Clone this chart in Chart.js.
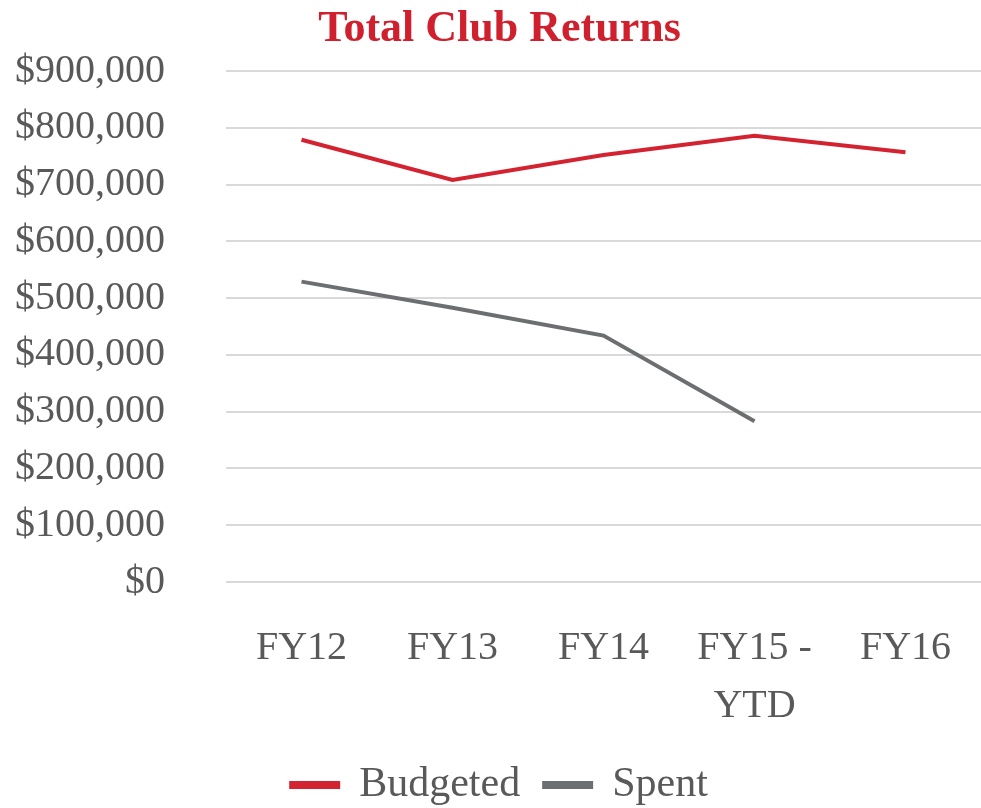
<!DOCTYPE html>
<html>
<head>
<meta charset="utf-8">
<script src="https://cdn.jsdelivr.net/npm/chart.js@4"></script>
<style>
  html, body { margin: 0; padding: 0; background: #fff; }
  #wrap { width: 981px; height: 808px; }
</style>
</head>
<body>
<div id="wrap"><canvas id="myLineChart"></canvas></div>
<script>
const categories = [['FY12'], ['FY13'], ['FY14'], ['FY15 -', 'YTD'], ['FY16']];
const budgeted = [779000, 708000, 752000, 786000, 757000];
const spent = [529000, 483000, 434000, 283000, null];
const yTicks = [0, 100000, 200000, 300000, 400000, 500000, 600000, 700000, 800000, 900000];

const serif = "'Liberation Serif', 'Times New Roman', serif";
const textGray = '#595959';

document.addEventListener('DOMContentLoaded', function () {
    const ctx = document.getElementById('myLineChart').getContext('2d');
    const myLineChart = new Chart(ctx, {
        type: 'line',
        data: {
            labels: categories,
            datasets: [{
                label: 'Budgeted',
                data: budgeted,
                borderColor: '#d42330',
                backgroundColor: '#d42330',
                borderWidth: 4,
                pointRadius: 0,
                fill: false,
                tension: 0
            }, {
                label: 'Spent',
                data: spent,
                borderColor: '#6d6e71',
                backgroundColor: '#6d6e71',
                borderWidth: 4,
                pointRadius: 0,
                fill: false,
                tension: 0
            }]
        },
        options: {
            responsive: true,
            maintainAspectRatio: false,
            animation: false,
            layout: { padding: { left: 10, right: -8, top: 0, bottom: -8 } },
            scales: {
                x: {
                    offset: true,
                    grid: { display: false, drawTicks: false },
                    border: { display: false },
                    afterFit: function (axis) {
                        axis.height = 158;
                        axis.paddingLeft = 0;
                        axis.paddingRight = 0;
                    },
                    ticks: {
                        color: textGray,
                        padding: 37,
                        maxRotation: 0,
                        autoSkip: false,
                        font: { family: serif, size: 40, lineHeight: 1.45 }
                    }
                },
                y: {
                    min: 0,
                    max: 900000,
                    afterBuildTicks: function (axis) {
                        axis.ticks = yTicks.map(v => ({ value: v }));
                    },
                    afterFit: function (axis) {
                        axis.width = 216;
                        axis.paddingTop = 0;
                        axis.paddingBottom = 0;
                    },
                    grid: { color: '#d9d9d9', lineWidth: 2, drawTicks: false },
                    border: { display: false },
                    ticks: {
                        color: textGray,
                        padding: 61,
                        autoSkip: false,
                        font: { family: serif, size: 40 },
                        callback: v => '$' + v.toLocaleString('en-US')
                    }
                }
            },
            plugins: {
                legend: {
                    display: true,
                    position: 'bottom',
                    labels: {
                        color: textGray,
                        boxWidth: 47,
                        boxHeight: 4,
                        padding: 24,
                        font: { family: serif, size: 42 }
                    }
                },
                title: {
                    display: true,
                    text: 'Total Club Returns',
                    color: '#d0202e',
                    padding: { top: 8, bottom: 19 },
                    font: { family: serif, size: 44, weight: 'bold', lineHeight: 1 }
                },
                tooltip: { enabled: false }
            }
        }
    });
});
</script>
</body>
</html>
